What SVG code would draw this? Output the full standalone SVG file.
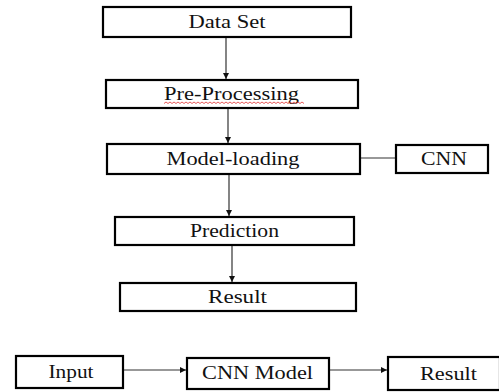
<svg xmlns="http://www.w3.org/2000/svg" width="499" height="392" viewBox="0 0 499 392">
<style>
.box{fill:#fff;stroke:#000;stroke-width:2.2}
.t{font-family:'Liberation Serif','Times New Roman','DejaVu Serif',serif;font-size:18px;fill:#111;text-anchor:middle}
.c{fill:none;stroke:#333;stroke-width:1.2}
</style>
<defs>
<marker id="ah" viewBox="0 0 8 8" refX="8" refY="4" markerWidth="6" markerHeight="6" markerUnits="userSpaceOnUse" orient="auto">
<path d="M0,0 L8,4 L0,8 Z" fill="#111"/>
</marker>
</defs>
<rect width="499" height="392" fill="#fff"/>
<g id="connectors">
<line class="c" x1="226" y1="38" x2="226" y2="79" marker-end="url(#ah)"/>
<line class="c" x1="228" y1="109" x2="228" y2="143" marker-end="url(#ah)"/>
<line class="c" x1="229" y1="175" x2="229" y2="216" marker-end="url(#ah)"/>
<line class="c" x1="232" y1="246" x2="232" y2="282" marker-end="url(#ah)"/>
<line class="c" x1="361" y1="158" x2="395" y2="158"/>
<line class="c" x1="124" y1="370" x2="186" y2="370" marker-end="url(#ah)"/>
<line class="c" x1="330" y1="370" x2="387" y2="370" marker-end="url(#ah)"/>
</g>
<g id="dataset">
<rect class="box" x="103" y="7" width="248" height="30"/>
<text class="t" x="227" y="28" textLength="77" lengthAdjust="spacingAndGlyphs">Data Set</text>
</g>
<g id="preprocessing">
<rect class="box" x="106" y="80" width="252" height="28"/>
<text class="t" x="231.5" y="100" textLength="135" lengthAdjust="spacingAndGlyphs">Pre-Processing</text>
<path d="M164,103.5 l2,-1.5 l2,1.5 l2,-1.5 l2,1.5 l2,-1.5 l2,1.5 l2,-1.5 l2,1.5 l2,-1.5 l2,1.5 l2,-1.5 l2,1.5 l2,-1.5 l2,1.5 l2,-1.5 l2,1.5 l2,-1.5 l2,1.5 l2,-1.5 l2,1.5 l2,-1.5 l2,1.5 l2,-1.5 l2,1.5 l2,-1.5 l2,1.5 l2,-1.5 l2,1.5 l2,-1.5 l2,1.5 l2,-1.5 l2,1.5 l2,-1.5 l2,1.5 l2,-1.5 l2,1.5 l2,-1.5 l2,1.5 l2,-1.5 l2,1.5 l2,-1.5 l2,1.5 l2,-1.5 l2,1.5 l2,-1.5 l2,1.5 l2,-1.5 l2,1.5 l2,-1.5 l2,1.5 l2,-1.5 l2,1.5 l2,-1.5 l2,1.5 l2,-1.5 l2,1.5 l2,-1.5 l2,1.5 l2,-1.5 l2,1.5 l2,-1.5 l2,1.5 l2,-1.5 l2,1.5 l2,-1.5 l2,1.5 l2,-1.5 l2,1.5 l2,-1.5 l2,1.5" fill="none" stroke="#e03030" stroke-width="0.8"/>
</g>
<g id="modelloading">
<rect class="box" x="107" y="144" width="253" height="30"/>
<text class="t" x="233" y="165" textLength="133" lengthAdjust="spacingAndGlyphs">Model-loading</text>
</g>
<g id="cnn">
<rect class="box" x="396" y="145" width="92" height="28"/>
<text class="t" x="444" y="165" textLength="46" lengthAdjust="spacingAndGlyphs">CNN</text>
</g>
<g id="prediction">
<rect class="box" x="115" y="217" width="239" height="28"/>
<text class="t" x="234.5" y="237" textLength="89" lengthAdjust="spacingAndGlyphs">Prediction</text>
</g>
<g id="result">
<rect class="box" x="120" y="283" width="236" height="28"/>
<text class="t" x="237.5" y="303" textLength="59" lengthAdjust="spacingAndGlyphs">Result</text>
</g>
<g id="input">
<rect class="box" x="16" y="356" width="107" height="32"/>
<text class="t" x="71" y="378" textLength="45" lengthAdjust="spacingAndGlyphs">Input</text>
</g>
<g id="cnnmodel">
<rect class="box" x="187" y="358" width="142" height="31"/>
<text class="t" x="257.5" y="379" textLength="111" lengthAdjust="spacingAndGlyphs">CNN Model</text>
</g>
<g id="result2">
<rect class="box" x="388" y="357" width="112" height="33"/>
<text class="t" x="448.5" y="380" textLength="57" lengthAdjust="spacingAndGlyphs">Result</text>
</g>
</svg>
